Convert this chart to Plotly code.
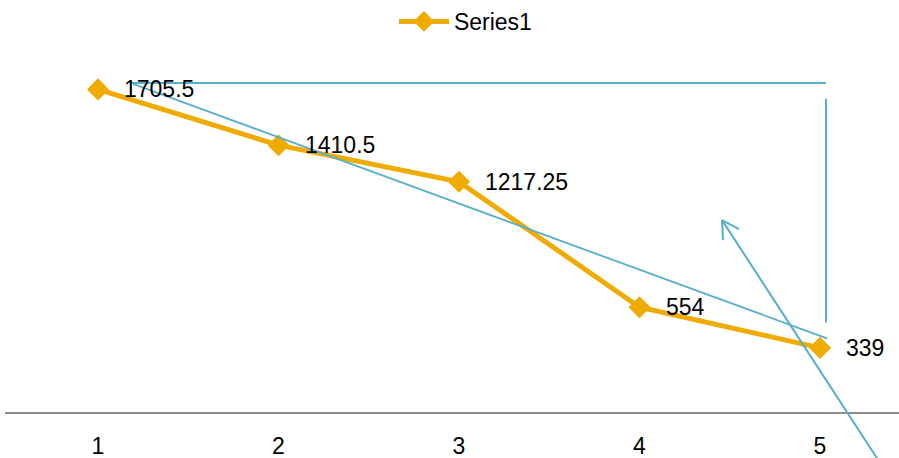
import plotly.graph_objects as go

# Series data
categories = [1, 2, 3, 4, 5]
series1 = [1705.5, 1410.5, 1217.25, 554, 339]
tick_labels = ["1", "2", "3", "4", "5"]

W, H = 899, 458
ML, MR, MT, MB = 5, 0, 68, 46
PW, PH = W - ML - MR, H - MT - MB

FONT = "Liberation Sans Narrow, Arial Narrow, Liberation Sans, Arial, sans-serif"
FS = 23
ORANGE = "#F0AB00"
BLUE = "#58AFC9"


def px(xp):
    return (xp - ML) / PW


def py(yp):
    return (H - MB - yp) / PH


fig = go.Figure()
fig.add_trace(go.Scatter(
    x=categories, y=series1, name="Series1",
    mode="lines+markers",
    line=dict(color=ORANGE, width=5),
    marker=dict(symbol="diamond", size=17, color=ORANGE),
    cliponaxis=False,
))

for cx, v in zip(categories, series1):
    fig.add_annotation(
        x=cx, y=v, text=f"{v:g}", showarrow=False,
        xanchor="left", yanchor="middle", xshift=24,
        font=dict(family=FONT, size=FS, color="#000000"),
    )

# Callout lines drawn over the plot
lines = [
    ((130, 81), (826, 81), 2),
    ((826, 97), (826, 322), 2),
    ((133, 82), (827, 338), 1.8),
    ((878, 460), (722, 219), 2),
    ((722, 219), (739, 228), 2),
    ((722, 219), (723, 239), 2),
]
for (x0, y0), (x1, y1), w in lines:
    fig.add_shape(
        type="line", xref="paper", yref="paper",
        x0=px(x0), y0=py(y0), x1=px(x1), y1=py(y1),
        line=dict(color=BLUE, width=w),
    )

fig.update_layout(
    width=W, height=H,
    margin=dict(l=ML, r=MR, t=MT, b=MB),
    paper_bgcolor="white", plot_bgcolor="white",
    font=dict(family=FONT, size=FS, color="#000000"),
    showlegend=True,
    legend=dict(
        orientation="h", x=0.515, xanchor="center",
        y=py(19), yanchor="middle",
        font=dict(family=FONT, size=FS, color="#000000"),
        bgcolor="rgba(0,0,0,0)",
        itemwidth=50,
    ),
    xaxis=dict(
        range=[1 - 93 / 180.5, 5 + 79 / 180.5],
        tickvals=categories, ticktext=tick_labels,
        showgrid=False, zeroline=False,
        showline=True, linecolor="#8C8C8C", linewidth=2,
        ticks="", ticklabelstandoff=12,
        tickfont=dict(family=FONT, size=FS, color="#000000"),
    ),
    yaxis=dict(
        range=[0, PH / 0.19027],
        visible=False, showgrid=False, zeroline=False,
    ),
)

fig.write_html("out.html")
